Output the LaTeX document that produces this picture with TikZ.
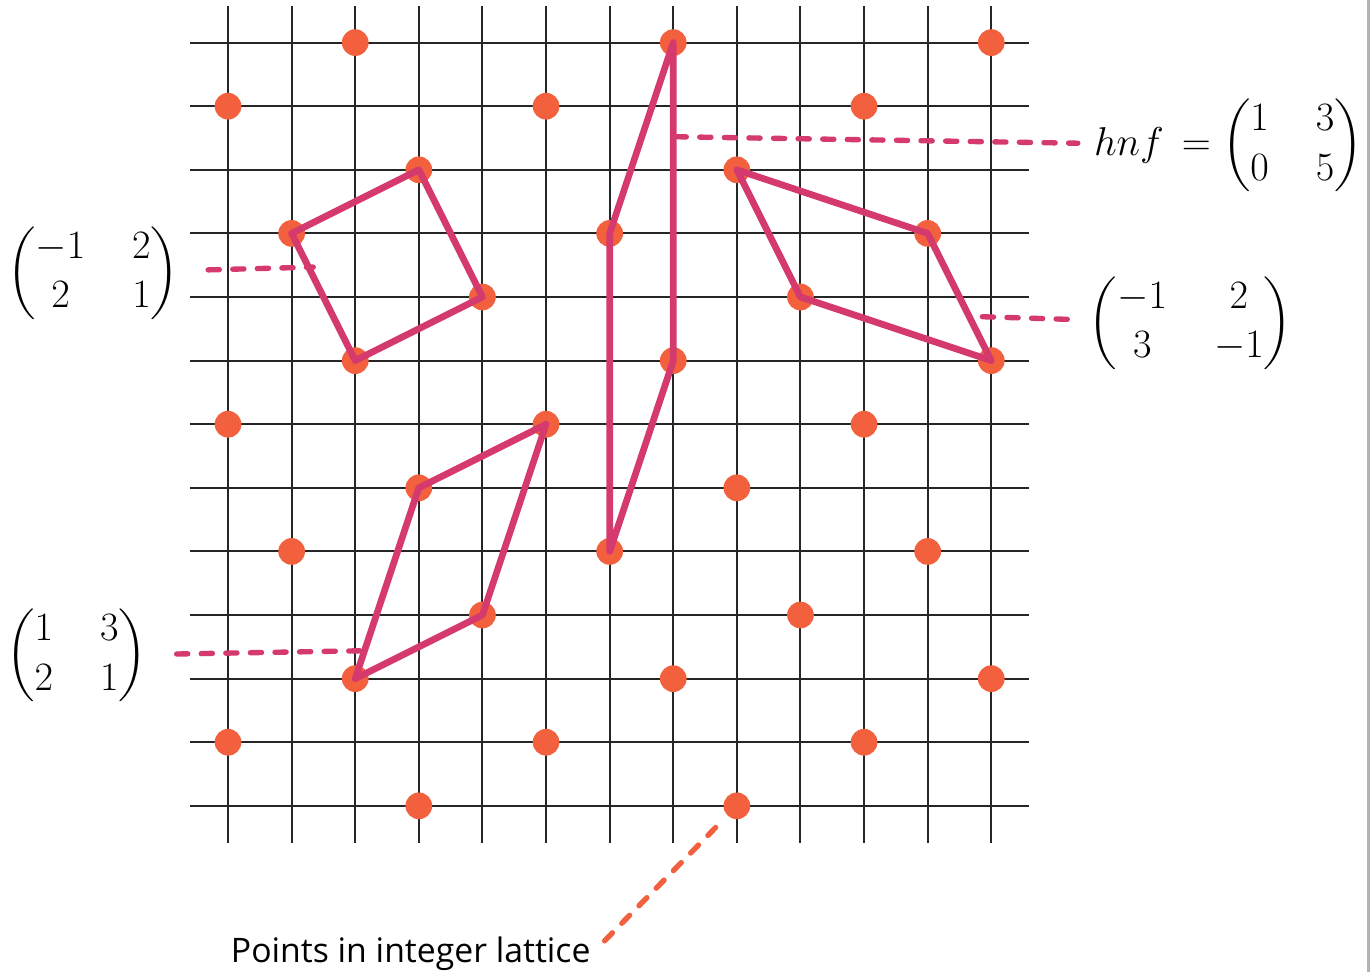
\documentclass[tikz,border=0pt]{standalone}
\usepackage{fix-cm}
\usepackage{amsmath}
\usepackage{fontspec}
\newfontfamily\notefont{Open Sans}
\definecolor{dotred}{HTML}{F2603D}
\definecolor{cellpink}{HTML}{D43A6E}
\setlength{\arraycolsep}{10.5pt}
\begin{document}
\begin{tikzpicture}[line width=.9pt,
  cell/.style={cellpink,line width=3pt,line join=round},
  lead/.style={cellpink,line width=2.4pt,line cap=round,dash pattern=on 5pt off 6pt},
  mat/.style={inner sep=0pt,font=\fontsize{18}{22}\selectfont}]
\useasboundingbox (-3.585,-2.61) rectangle (17.97,12.67);
\draw[black!30,line width=1pt] (17.93,-2.61)--(17.93,12.67);
\foreach \k in {0,...,12} {\draw[black!85] (\k,-.58)--(\k,12.58); \draw[black!85] (-.6,\k)--(12.6,\k);}
% lattice points, i = 3+2j mod 5
\foreach \j in {0,...,12} {
  \pgfmathtruncatemacro{\s}{mod(3+2*\j,5)}
  \foreach \t in {0,5,10} {\pgfmathtruncatemacro{\i}{\s+\t}
    \ifnum\i<13 \node[circle,fill=dotred,inner sep=0pt,minimum size=.42cm] (p\i-\j) at (\i,\j) {};\fi}}
% labels
\node[mat] (mA) at (-2.12,8.38) {$\begin{pmatrix}-1&2\\2&1\end{pmatrix}$};
\node[mat] (mB) at (-2.38,2.36) {$\begin{pmatrix}1&3\\2&1\end{pmatrix}$};
\node[mat,anchor=west] (hnf) at (13.6,10.38) {$hnf\,=\begin{pmatrix}1&3\\0&5\end{pmatrix}$};
\node[mat,anchor=west] (mD) at (13.52,7.59) {$\begin{pmatrix}-1&2\\3&-1\end{pmatrix}$};
\node[inner sep=0pt,anchor=base west,font=\notefont\fontsize{15.1}{19}\selectfont] (pts) at (.03,-2.47) {Points in integer lattice};
% leaders
\coordinate (eA) at (1.34,8.47); \coordinate (eB) at (2.2,2.44);
\coordinate (eC) at (7.03,10.52); \coordinate (eD) at (11.86,7.69);
\draw[lead,shorten <=.44cm] (mA)--(eA); \draw[lead,shorten <=.45cm] (mB)--(eB);
\draw[lead,shorten >=.24cm] (eC)--(hnf); \draw[lead,shorten >=.3cm] (eD)--(mD);
\draw[lead,dotred,shorten <=.25cm,shorten >=.22cm] (p8-0)--(pts.east);
% cells
\draw[cell] (1,9)--(3,10)--(4,8)--(2,7)--cycle;
\draw[cell] (2,2)--(3,5)--(5,6)--(4,3)--cycle;
\draw[cell] (6,4)--(6,9)--(7,12)--(7,7)--cycle;
\draw[cell] (8,10)--(11,9)--(12,7)--(9,8)--cycle;
\end{tikzpicture}
\end{document}
